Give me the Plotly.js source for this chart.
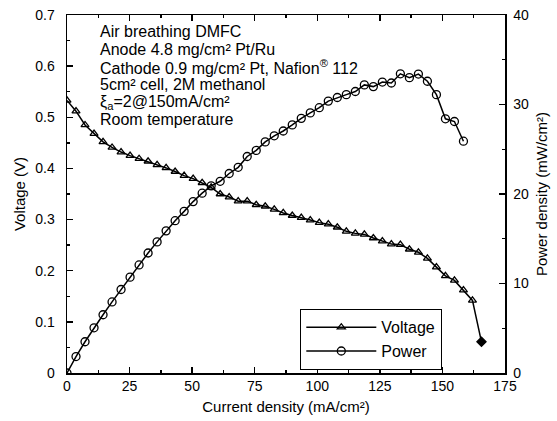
<!DOCTYPE html>
<html>
<head>
<meta charset="utf-8">
<script src="https://cdn.plot.ly/plotly-3.0.1.min.js"></script>
<style>html,body{margin:0;padding:0;background:#fff;}#chart{width:557px;height:421px;}</style>
</head>
<body>
<div id="chart"></div>
<script>
// Current density (mA/cm²)
const currentV = [0, 3.6, 7.2, 10.8, 14.4, 18, 21.6, 25.2, 28.8, 32.4, 36, 39.6, 43.2, 46.8, 50.4, 54, 57.6, 61.2, 64.8, 68.4, 72, 75.6, 79.2, 82.8, 86.4, 90, 93.6, 97.2, 100.8, 104.4, 108, 111.6, 115.2, 118.8, 122.4, 126, 129.6, 133.2, 136.8, 140.4, 144, 147.6, 151.2, 154.8, 158.4, 162, 165.6];
// Voltage (V)
const voltage = [0.533, 0.512, 0.485, 0.468, 0.452, 0.441, 0.432, 0.425, 0.419, 0.414, 0.407, 0.401, 0.394, 0.386, 0.380, 0.372, 0.363, 0.350, 0.344, 0.336, 0.336, 0.329, 0.326, 0.320, 0.313, 0.308, 0.304, 0.299, 0.294, 0.291, 0.285, 0.277, 0.273, 0.271, 0.264, 0.258, 0.252, 0.251, 0.242, 0.236, 0.224, 0.207, 0.190, 0.181, 0.162, 0.142, 0.061];
// Current density for power points (mA/cm²)
const currentP = [0, 3.6, 7.2, 10.8, 14.4, 18, 21.6, 25.2, 28.8, 32.4, 36, 39.6, 43.2, 46.8, 50.4, 54, 57.6, 61.2, 64.8, 68.4, 72, 75.6, 79.2, 82.8, 86.4, 90, 93.6, 97.2, 100.8, 104.4, 108, 111.6, 115.2, 118.8, 122.4, 126, 129.6, 133.2, 136.8, 140.4, 144, 147.6, 151.2, 154.8, 158.4];
// Power density (mW/cm²)
const power = [0, 1.84, 3.49, 5.05, 6.51, 7.94, 9.33, 10.71, 12.07, 13.41, 14.65, 15.88, 17.02, 18.06, 19.15, 20.09, 20.91, 21.42, 22.29, 22.98, 24.19, 24.87, 25.82, 26.50, 27.04, 27.72, 28.45, 29.06, 29.64, 30.38, 30.78, 31.1, 31.45, 32.19, 32.0, 32.51, 32.4, 33.43, 33.0, 33.4, 32.6, 31.1, 28.4, 28.1, 25.9];

const infoLines = [
  "Air breathing DMFC",
  "Anode 4.8 mg/cm² Pt/Ru",
  "Cathode 0.9 mg/cm² Pt, Nafion<sup>®</sup> 112",
  "5cm² cell, 2M methanol",
  "ξ<sub>a</sub>=2@150mA/cm²",
  "Room temperature"
];

const FONT = "Arial, 'Liberation Sans', sans-serif";
const W = 557, H = 421, L = 67, R = 52, T = 15, B = 48;
const pw = W - L - R, ph = H - T - B;
const px2x = p => (p - L) / pw;
const py2y = p => (H - B - p) / ph;

const rowY = [32, 49.5, 67, 84.5, 102, 119.5];
const annotations = infoLines.map((t, i) => ({
  text: t, xref: 'paper', yref: 'paper', x: px2x(98), y: py2y(rowY[i]),
  xanchor: 'left', yanchor: 'middle', showarrow: false,
  font: {family: FONT, size: 16, color: '#000'}
}));

// last voltage marker is drawn filled in the original
const vSymbols = currentV.map((_, i) => i === currentV.length - 1 ? 'diamond' : 'triangle-up-open');

const traces = [
  {x: currentV, y: voltage, name: 'Voltage', type: 'scatter', mode: 'lines+markers',
   line: {color: '#000', width: 1.5},
   marker: {symbol: vSymbols, size: 7, color: '#000', line: {width: 1.3, color: '#000'}}},
  {x: currentP, y: power, name: 'Power', type: 'scatter', mode: 'lines+markers', yaxis: 'y2',
   line: {color: '#000', width: 1.5},
   marker: {symbol: 'circle-open', size: 8, color: '#000', line: {width: 1.3, color: '#000'}}}
];

const axisCommon = {
  showgrid: false, zeroline: false, showline: true, linecolor: '#000', linewidth: 1.5,
  ticks: 'inside', ticklen: 6, tickwidth: 1.3, tickcolor: '#000',
  tickfont: {family: FONT, size: 14, color: '#000'}
};

const layout = {
  width: W, height: H,
  margin: {l: L, r: R, t: T, b: B, pad: 0},
  paper_bgcolor: '#fff', plot_bgcolor: '#fff',
  font: {family: FONT, size: 14, color: '#000'},
  showlegend: true,
  legend: {x: px2x(300), y: py2y(309), xanchor: 'left', yanchor: 'top',
           bordercolor: '#000', borderwidth: 1.3, bgcolor: '#fff',
           font: {family: FONT, size: 16, color: '#000'}, itemwidth: 70, tracegroupgap: 0},
  xaxis: Object.assign({}, axisCommon, {
    range: [0, 175], dtick: 25, tick0: 0, mirror: 'ticks',
    minor: {dtick: 12.5, ticks: 'inside', ticklen: 3, tickcolor: '#000'},
    title: {text: 'Current density (mA/cm²)', font: {family: FONT, size: 15, color: '#000'}, standoff: 8}
  }),
  yaxis: Object.assign({}, axisCommon, {
    range: [0, 0.7], dtick: 0.1, tick0: 0, tickformat: '.1~f',
    minor: {dtick: 0.05, ticks: 'inside', ticklen: 3, tickcolor: '#000'},
    ticklabelstandoff: 8,
    title: {text: 'Voltage (V)', font: {family: FONT, size: 15, color: '#000'}, standoff: 6}
  }),
  yaxis2: Object.assign({}, axisCommon, {
    range: [0, 40], dtick: 10, tick0: 0, overlaying: 'y', side: 'right',
    minor: {dtick: 5, ticks: 'inside', ticklen: 3, tickcolor: '#000'},
    ticklabelstandoff: 4,
    title: {text: 'Power density (mW/cm²)', font: {family: FONT, size: 15, color: '#000'}, standoff: 8}
  }),
  annotations: annotations
};

Plotly.newPlot('chart', traces, layout, {displayModeBar: false, staticPlot: true});
</script>
</body>
</html>
